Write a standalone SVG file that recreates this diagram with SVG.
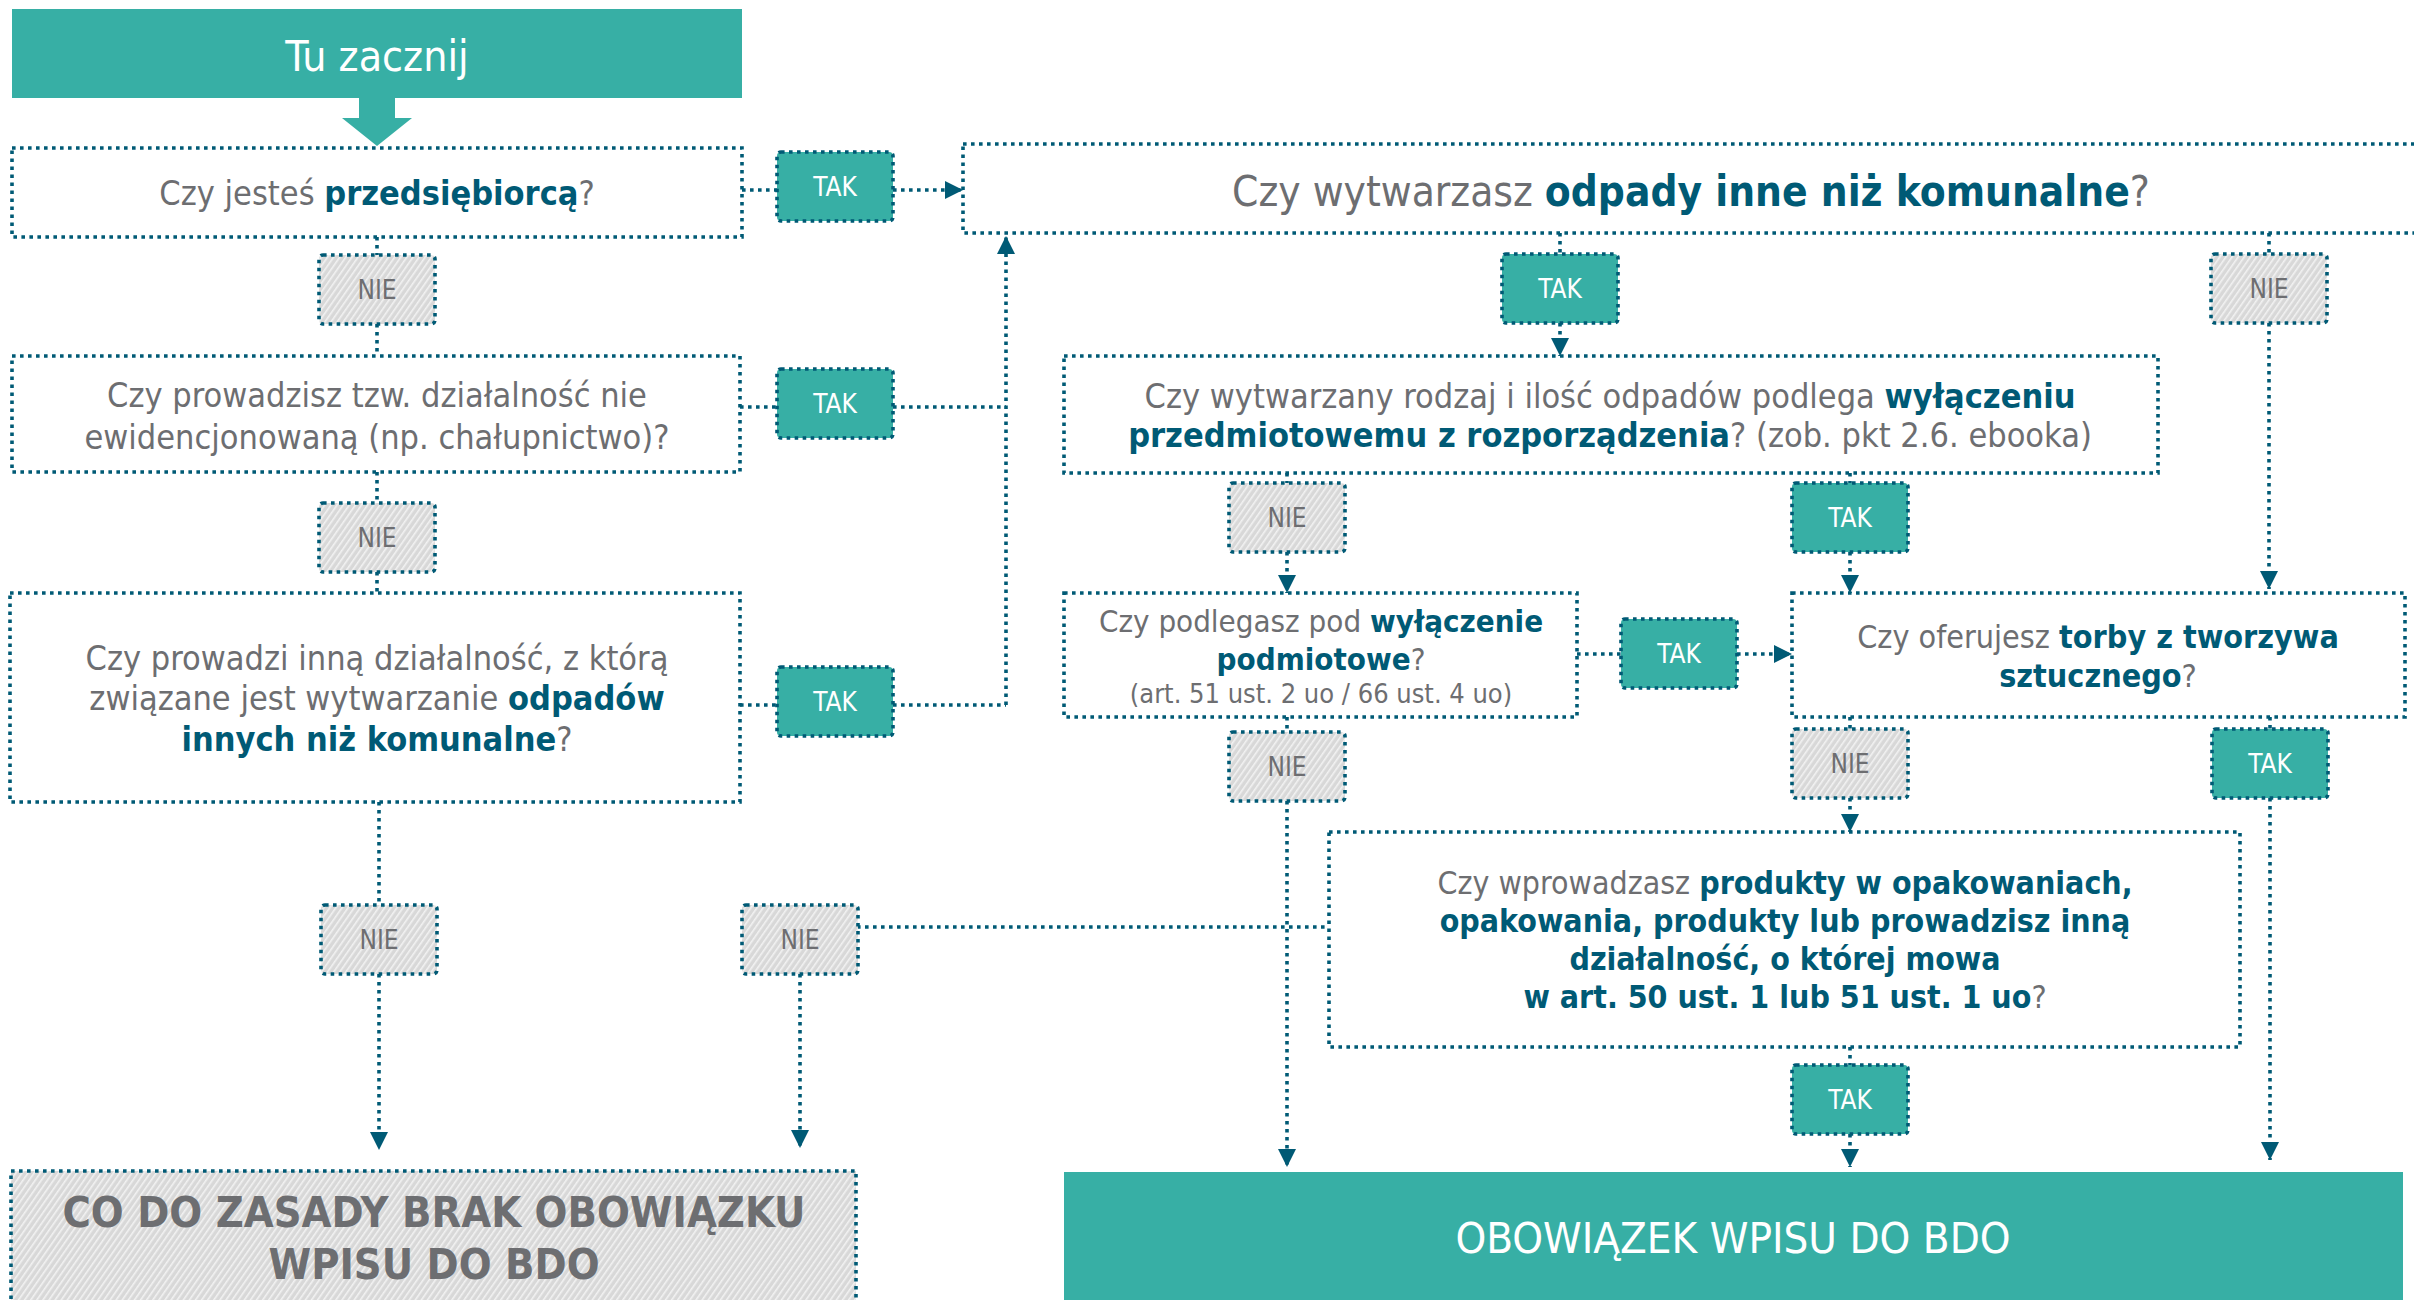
<svg xmlns="http://www.w3.org/2000/svg" width="2414" height="1300" viewBox="0 0 2414 1300">
<defs>
<pattern id="hatch" width="5" height="5" patternUnits="userSpaceOnUse" patternTransform="rotate(35)">
<rect width="5" height="5" fill="#D8D8D8"/>
<rect x="0" y="0" width="1.6" height="5" fill="#F2F2F2"/>
</pattern>
<marker id="arr" markerUnits="userSpaceOnUse" markerWidth="18" markerHeight="18" refX="16" refY="8" orient="auto" viewBox="0 0 16 16">
<path d="M0,0 L16,8 L0,16 z" fill="#005A75"/>
</marker>
<style>
text{font-family:'DejaVu Sans Condensed','DejaVu Sans',sans-serif;font-stretch:condensed;fill:#6D6E71;text-anchor:middle}
.b{font-weight:bold;fill:#005A75}
.q{fill:#fff;stroke:#005A75;stroke-width:3.6;stroke-dasharray:3.6 4.4}
.tak{fill:#37AFA5;stroke:#005A75;stroke-width:3.6;stroke-dasharray:3.6 4.4}
.nie{fill:url(#hatch);stroke:#005A75;stroke-width:3.6;stroke-dasharray:3.6 4.4}
.lt{font-size:26px;fill:#fff}
.ln{font-size:26px;fill:#6D6E71}
.c{fill:none;stroke:#005A75;stroke-width:3.6;stroke-dasharray:3.6 4.4}
.a{marker-end:url(#arr)}
</style>
</defs>

<g id="connectors">
<path class="c" d="M377,237 V255 M377,324 V356"/>
<path class="c" d="M377,472 V503 M377,572 V593"/>
<path class="c" d="M742,190 H777"/>
<path class="c a" d="M893,190 H963"/>
<path class="c" d="M740,407 H777 M893,407 H1006"/>
<path class="c" d="M740,705 H777 M893,705 H1006"/>
<path class="c a" d="M1006,705 V236"/>
<path class="c" d="M379,802 V905"/>
<path class="c a" d="M379,974 V1150"/>
<path class="c" d="M857,927 H1329"/>
<path class="c a" d="M800,974 V1148"/>
<path class="c" d="M1560,233 V254"/>
<path class="c a" d="M1560,323 V356"/>
<path class="c" d="M2269,233 V254"/>
<path class="c a" d="M2269,323 V589"/>
<path class="c" d="M1287,473 V483"/>
<path class="c a" d="M1287,552 V593"/>
<path class="c" d="M1850,473 V483"/>
<path class="c a" d="M1850,552 V593"/>
<path class="c" d="M1577,654 H1621"/>
<path class="c a" d="M1737,654 H1792"/>
<path class="c" d="M1287,717 V732"/>
<path class="c a" d="M1287,801 V1167"/>
<path class="c" d="M1850,717 V729"/>
<path class="c a" d="M1850,798 V832"/>
<path class="c" d="M2270,717 V729"/>
<path class="c a" d="M2270,798 V1160"/>
<path class="c" d="M1850,1047 V1065"/>
<path class="c a" d="M1850,1134 V1167"/>
</g>

<g id="start">
<rect x="12" y="9" width="730" height="89" fill="#37AFA5"/>
<path d="M359,97 H395 V118 H412 L377,146 L342,118 H359 z" fill="#37AFA5"/>
<text x="377" y="71" style="font-size:42.5px;fill:#fff">Tu zacznij</text>
</g>

<g id="q1">
<rect class="q" x="12" y="148" width="730" height="89"/>
<text x="377" y="205" style="font-size:34px">Czy jesteś <tspan class="b">przedsiębiorcą</tspan>?</text>
</g>
<g id="q2">
<rect class="q" x="12" y="356" width="728" height="116"/>
<text x="377" y="407" style="font-size:34px">Czy prowadzisz tzw. działalność nie</text>
<text x="377" y="449" style="font-size:34px">ewidencjonowaną (np. chałupnictwo)?</text>
</g>
<g id="q3">
<rect class="q" x="10" y="593" width="730" height="209"/>
<text x="377" y="670" style="font-size:34px">Czy prowadzi inną działalność, z którą</text>
<text x="377" y="710" style="font-size:34px">związane jest wytwarzanie <tspan class="b">odpadów</tspan></text>
<text x="377" y="751" style="font-size:34px"><tspan class="b">innych niż komunalne</tspan>?</text>
</g>
<g id="q4">
<rect class="q" x="963" y="144" width="1470" height="89"/>
<text x="1691" y="206" style="font-size:42px">Czy wytwarzasz <tspan class="b">odpady inne niż komunalne</tspan>?</text>
</g>
<g id="q5">
<rect class="q" x="1064" y="356" width="1094" height="117"/>
<text x="1610" y="408" style="font-size:34px">Czy wytwarzany rodzaj i ilość odpadów podlega <tspan class="b">wyłączeniu</tspan></text>
<text x="1610" y="447" style="font-size:34px"><tspan class="b">przedmiotowemu z rozporządzenia</tspan>? (zob. pkt 2.6. ebooka)</text>
</g>
<g id="q6">
<rect class="q" x="1064" y="593" width="513" height="124"/>
<text x="1321" y="632" style="font-size:31px">Czy podlegasz pod <tspan class="b">wyłączenie</tspan></text>
<text x="1321" y="670" style="font-size:31px"><tspan class="b">podmiotowe</tspan>?</text>
<text x="1321" y="703" style="font-size:27px">(art. 51 ust. 2 uo / 66 ust. 4 uo)</text>
</g>
<g id="q7">
<rect class="q" x="1792" y="593" width="613" height="124"/>
<text x="2098" y="648" style="font-size:32px">Czy oferujesz <tspan class="b">torby z tworzywa</tspan></text>
<text x="2098" y="687" style="font-size:32px"><tspan class="b">sztucznego</tspan>?</text>
</g>
<g id="q8">
<rect class="q" x="1329" y="832" width="911" height="215"/>
<text x="1785" y="894" style="font-size:31.8px">Czy wprowadzasz <tspan class="b">produkty w opakowaniach,</tspan></text>
<text x="1785" y="932" style="font-size:31.8px" class="b">opakowania, produkty lub prowadzisz inną</text>
<text x="1785" y="970" style="font-size:31.8px" class="b">działalność, o której mowa</text>
<text x="1785" y="1008" style="font-size:31.8px"><tspan class="b">w art. 50 ust. 1 lub 51 ust. 1 uo</tspan>?</text>
</g>

<g id="end-no">
<rect class="nie" x="11" y="1171" width="845" height="135"/>
<text x="434" y="1227" style="font-size:43px;font-weight:bold">CO DO ZASADY BRAK OBOWIĄZKU</text>
<text x="434" y="1279" style="font-size:43px;font-weight:bold">WPISU DO BDO</text>
</g>
<g id="end-yes">
<rect x="1064" y="1172" width="1339" height="128" fill="#37AFA5"/>
<text x="1733" y="1253" style="font-size:43.5px;fill:#fff">OBOWIĄZEK WPISU DO BDO</text>
</g>

<g id="tak1"><rect class="tak" x="777" y="152" width="116" height="69" rx="4"/><text class="lt" x="835" y="196">TAK</text></g>
<g id="tak2"><rect class="tak" x="777" y="369" width="116" height="69" rx="4"/><text class="lt" x="835" y="413">TAK</text></g>
<g id="tak3"><rect class="tak" x="777" y="667" width="116" height="69" rx="4"/><text class="lt" x="835" y="711">TAK</text></g>
<g id="nie1"><rect class="nie" x="319" y="255" width="116" height="69" rx="4"/><text class="ln" x="377" y="299">NIE</text></g>
<g id="nie2"><rect class="nie" x="319" y="503" width="116" height="69" rx="4"/><text class="ln" x="377" y="547">NIE</text></g>
<g id="nie3"><rect class="nie" x="321" y="905" width="116" height="69" rx="4"/><text class="ln" x="379" y="949">NIE</text></g>
<g id="nie4"><rect class="nie" x="742" y="905" width="116" height="69" rx="4"/><text class="ln" x="800" y="949">NIE</text></g>
<g id="tak4"><rect class="tak" x="1502" y="254" width="116" height="69" rx="4"/><text class="lt" x="1560" y="298">TAK</text></g>
<g id="nie5"><rect class="nie" x="2211" y="254" width="116" height="69" rx="4"/><text class="ln" x="2269" y="298">NIE</text></g>
<g id="nie6"><rect class="nie" x="1229" y="483" width="116" height="69" rx="4"/><text class="ln" x="1287" y="527">NIE</text></g>
<g id="tak5"><rect class="tak" x="1792" y="483" width="116" height="69" rx="4"/><text class="lt" x="1850" y="527">TAK</text></g>
<g id="tak6"><rect class="tak" x="1621" y="619" width="116" height="69" rx="4"/><text class="lt" x="1679" y="663">TAK</text></g>
<g id="nie7"><rect class="nie" x="1229" y="732" width="116" height="69" rx="4"/><text class="ln" x="1287" y="776">NIE</text></g>
<g id="nie8"><rect class="nie" x="1792" y="729" width="116" height="69" rx="4"/><text class="ln" x="1850" y="773">NIE</text></g>
<g id="tak7"><rect class="tak" x="2212" y="729" width="116" height="69" rx="4"/><text class="lt" x="2270" y="773">TAK</text></g>
<g id="tak8"><rect class="tak" x="1792" y="1065" width="116" height="69" rx="4"/><text class="lt" x="1850" y="1109">TAK</text></g>
</svg>
